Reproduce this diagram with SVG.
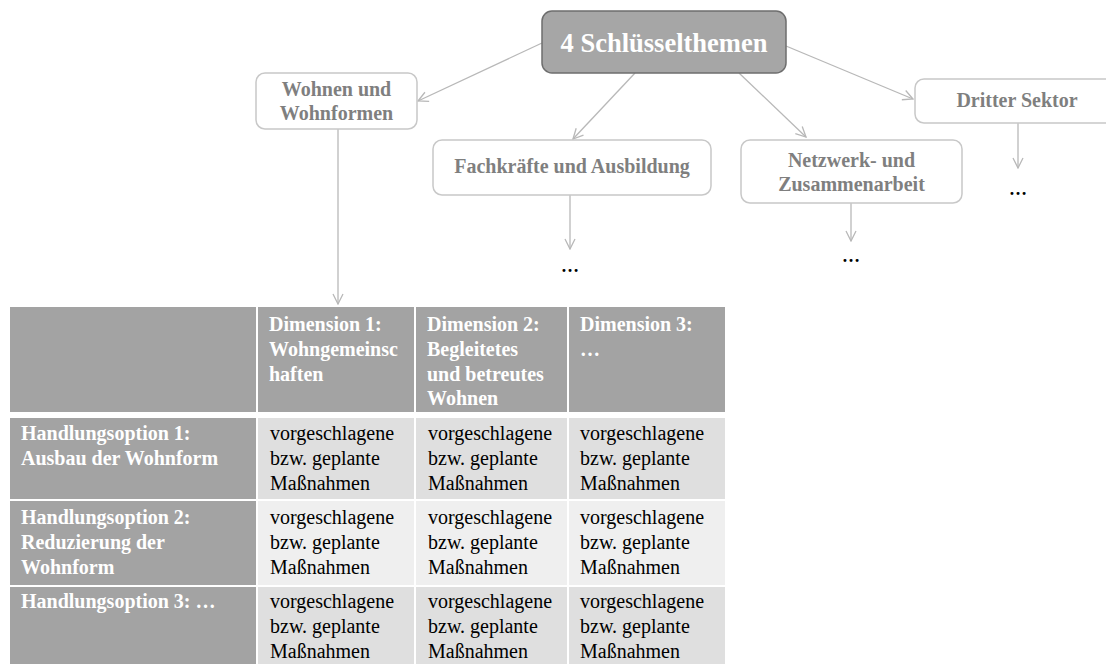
<svg xmlns="http://www.w3.org/2000/svg" width="1106" height="664" viewBox="0 0 1106 664">
<style>
.node{fill:#ffffff;stroke:#c8c8c8;stroke-width:1.5}
.nt{font-family:"Liberation Serif",serif;font-weight:bold;font-size:20px;fill:#7f7f7f;text-anchor:middle}
.title{font-family:"Liberation Serif",serif;font-weight:bold;font-size:26.5px;fill:#ffffff;text-anchor:middle}
.conn{stroke:#b8b8b8;stroke-width:1.3;fill:none}
.dots{font-family:"Liberation Serif",serif;font-weight:bold;font-size:18px;fill:#000;text-anchor:middle}
.hd{fill:#a3a3a3;stroke:#ffffff;stroke-width:2}
.c1{fill:#dfdfdf;stroke:#ffffff;stroke-width:2}
.c2{fill:#efefef;stroke:#ffffff;stroke-width:2}
.hb{font-family:"Liberation Serif",serif;font-weight:bold;font-size:20px;fill:#ffffff}
.bt{font-family:"Liberation Serif",serif;font-size:20px;fill:#000000}
</style>
<defs>
<marker id="ah" viewBox="0 0 12 12" refX="11" refY="6" markerWidth="12" markerHeight="12" markerUnits="userSpaceOnUse" orient="auto">
<path d="M1,1 L11,6 L1,11" fill="none" stroke="#b8b8b8" stroke-width="1.3"/>
</marker>
</defs>
<g id="connectors">
<line class="conn" x1="542" y1="43" x2="418" y2="101" marker-end="url(#ah)"/>
<line class="conn" x1="635" y1="73" x2="573" y2="139" marker-end="url(#ah)"/>
<line class="conn" x1="739" y1="73" x2="806" y2="137" marker-end="url(#ah)"/>
<line class="conn" x1="786" y1="46" x2="913" y2="99" marker-end="url(#ah)"/>
<line class="conn" x1="338" y1="129" x2="338" y2="304" marker-end="url(#ah)"/>
<line class="conn" x1="570" y1="195" x2="570" y2="249" marker-end="url(#ah)"/>
<line class="conn" x1="851" y1="203" x2="851" y2="241" marker-end="url(#ah)"/>
<line class="conn" x1="1018" y1="123" x2="1018" y2="168" marker-end="url(#ah)"/>
</g>
<g id="n-title">
<rect x="542" y="11" width="244" height="62" rx="10" fill="#a6a6a6" stroke="#6e6e6e" stroke-width="1.5"/>
<text class="title" x="664" y="52">4 Schlüsselthemen</text>
</g>
<g id="n-wohnen">
<rect class="node" x="256" y="73" width="161" height="56" rx="9"/>
<text class="nt" x="336.5" y="96">Wohnen und</text>
<text class="nt" x="336.5" y="120">Wohnformen</text>
</g>
<g id="n-fach">
<rect class="node" x="433" y="140" width="278" height="55" rx="9"/>
<text class="nt" x="572" y="173">Fachkräfte und Ausbildung</text>
</g>
<g id="n-netz">
<rect class="node" x="741" y="140" width="221" height="63" rx="9"/>
<text class="nt" x="851.5" y="167">Netzwerk- und</text>
<text class="nt" x="851.5" y="191">Zusammenarbeit</text>
</g>
<g id="n-dritter">
<rect class="node" x="915" y="79" width="205" height="44" rx="9"/>
<text class="nt" x="1017" y="107">Dritter Sektor</text>
</g>
<g id="dots">
<text class="dots" x="570" y="272">…</text>
<text class="dots" x="851" y="262">…</text>
<text class="dots" x="1018" y="195">…</text>
</g>
<g id="table">
<rect class="hd" x="9" y="306" width="248" height="107"/>
<rect class="hd" x="257" y="306" width="158" height="107"/>
<rect class="hd" x="415" y="306" width="153" height="107"/>
<rect class="hd" x="568" y="306" width="158" height="107"/>
<line x1="9" y1="415" x2="726" y2="415" stroke="#ffffff" stroke-width="4"/>
<rect class="hd" x="9" y="417" width="248" height="83"/>
<rect class="c1" x="257" y="417" width="158" height="83"/>
<rect class="c1" x="415" y="417" width="153" height="83"/>
<rect class="c1" x="568" y="417" width="158" height="83"/>
<rect class="hd" x="9" y="500" width="248" height="86"/>
<rect class="c2" x="257" y="500" width="158" height="86"/>
<rect class="c2" x="415" y="500" width="153" height="86"/>
<rect class="c2" x="568" y="500" width="158" height="86"/>
<rect class="hd" x="9" y="586" width="248" height="80"/>
<rect class="c1" x="257" y="586" width="158" height="80"/>
<rect class="c1" x="415" y="586" width="153" height="80"/>
<rect class="c1" x="568" y="586" width="158" height="80"/>
<text class="hb" x="269" y="331">Dimension 1:</text>
<text class="hb" x="269" y="356">Wohngemeinsc</text>
<text class="hb" x="269" y="381">haften</text>
<text class="hb" x="427" y="331">Dimension 2:</text>
<text class="hb" x="427" y="356">Begleitetes</text>
<text class="hb" x="427" y="381">und betreutes</text>
<text class="hb" x="427" y="405">Wohnen</text>
<text class="hb" x="580" y="331">Dimension 3:</text>
<text class="hb" x="580" y="356">…</text>
<text class="hb" x="21" y="440">Handlungsoption 1:</text>
<text class="hb" x="21" y="465">Ausbau der Wohnform</text>
<text class="hb" x="21" y="524">Handlungsoption 2:</text>
<text class="hb" x="21" y="549">Reduzierung der</text>
<text class="hb" x="21" y="574">Wohnform</text>
<text class="hb" x="21" y="608">Handlungsoption 3: …</text>
<g class="bt">
<text x="270" y="440">vorgeschlagene</text><text x="270" y="465">bzw. geplante</text><text x="270" y="490">Maßnahmen</text>
<text x="428" y="440">vorgeschlagene</text><text x="428" y="465">bzw. geplante</text><text x="428" y="490">Maßnahmen</text>
<text x="580" y="440">vorgeschlagene</text><text x="580" y="465">bzw. geplante</text><text x="580" y="490">Maßnahmen</text>
<text x="270" y="524">vorgeschlagene</text><text x="270" y="549">bzw. geplante</text><text x="270" y="574">Maßnahmen</text>
<text x="428" y="524">vorgeschlagene</text><text x="428" y="549">bzw. geplante</text><text x="428" y="574">Maßnahmen</text>
<text x="580" y="524">vorgeschlagene</text><text x="580" y="549">bzw. geplante</text><text x="580" y="574">Maßnahmen</text>
<text x="270" y="608">vorgeschlagene</text><text x="270" y="633">bzw. geplante</text><text x="270" y="658">Maßnahmen</text>
<text x="428" y="608">vorgeschlagene</text><text x="428" y="633">bzw. geplante</text><text x="428" y="658">Maßnahmen</text>
<text x="580" y="608">vorgeschlagene</text><text x="580" y="633">bzw. geplante</text><text x="580" y="658">Maßnahmen</text>
</g>
</g>
</svg>
